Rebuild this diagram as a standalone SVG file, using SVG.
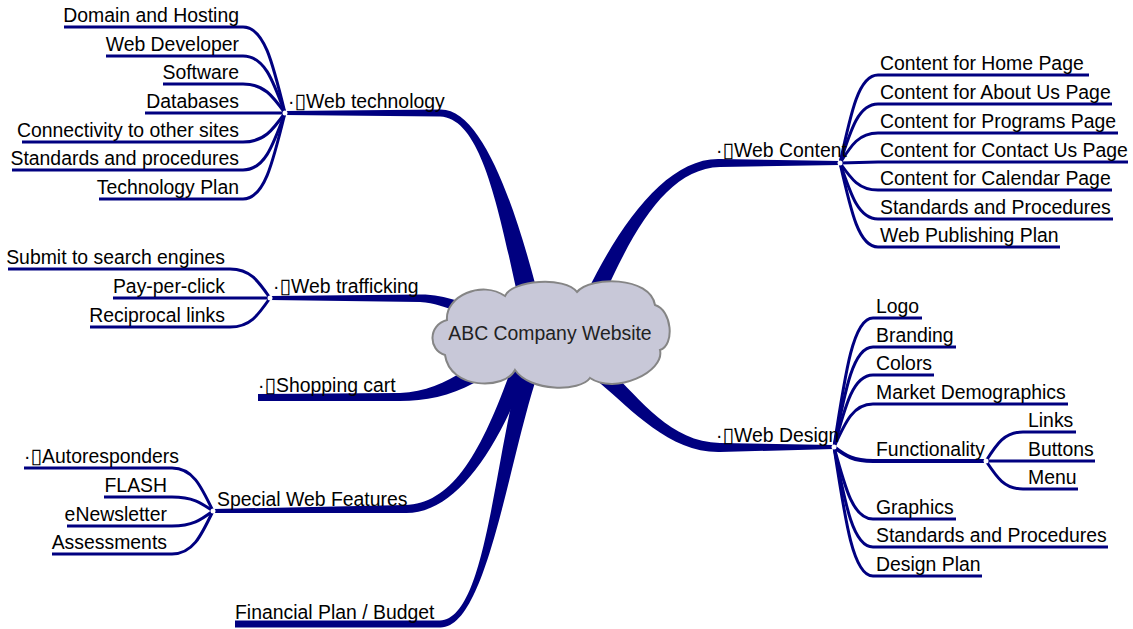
<svg xmlns="http://www.w3.org/2000/svg" width="1133" height="629" viewBox="0 0 1133 629">
<style>
.leaf{fill:none;stroke:#000080;stroke-width:3;stroke-linecap:butt}
.sub{fill:none;stroke:#000080;stroke-width:4}
.br{fill:#000080;stroke:none}
.hub{fill:#ffffff;stroke:none}
text{font-family:"Liberation Sans",Arial,"DejaVu Sans",sans-serif;font-size:19.4px;fill:#000}
.bx{font-family:"DejaVu Sans",sans-serif;font-size:21px;fill:#000}
.e{text-anchor:end}
.c{text-anchor:middle;fill:#222}
.cloud{fill:#c8c8d8;stroke:#858585;stroke-width:2}
</style>
<rect width="1133" height="629" fill="#ffffff"/>
<g id="connectors">
<path class="br" d="M285,111 L440,109.5 C480,108 512.8,198.1 536.7,289.7 L540,305 L521,309 L517.3,294.3 C497.2,201.9 480,118 440,116.5 L285,115 Z"/>
<path class="br" d="M840,161 L720,159 C670,157.5 623.7,217 587.3,291.4 L580,305 L597,310 L602.7,298.6 C636.3,223 670,168.5 720,167 L840,165 Z"/>
<path class="br" d="M270,296 L420,294.5 C435,294.5 445,297 455,300 L455,311 C445,307 435,303 420,302 L270,300 Z"/>
<path class="br" d="M258,394 L400,393 C425,392 445,383 465,370 L474,383 C450,396 425,401 400,401 L258,401 Z"/>
<path class="br" d="M213,509 L405,505 C450,504 478.9,457.7 509,375.3 L512,362 L528,366 L523,380.7 C491.1,462.3 450,514 405,513 L213,513 Z"/>
<path class="br" d="M235,620.5 L440,620.5 C485,619 493.3,468 518.4,375.5 L521,362 L538,366 L535.6,380.5 C506.7,472 485,629 440,627.5 L235,627.5 Z"/>
<path class="br" d="M834,445 L720,443 C670,442 641.6,399.7 609.3,370 L600.3,362.1 L589.7,374.1 L598.7,382 C632.4,410.3 670,453 720,452 L834,449 Z"/>
<path class="leaf" d="M64,27 H243 C264,27 272.4,61.4 285,113"/>
<path class="leaf" d="M106,56 H243 C264,56 272.4,78.8 285,113"/>
<path class="leaf" d="M163,84 H243 C264,84 272.4,95.6 285,113"/>
<path class="leaf" d="M145,113 H285"/>
<path class="leaf" d="M22,142 H243 C264,142 272.4,130.4 285,113"/>
<path class="leaf" d="M12,170 H243 C264,170 272.4,147.2 285,113"/>
<path class="leaf" d="M99,199 H243 C264,199 272.4,164.6 285,113"/>
<path class="leaf" d="M840,163 C851.4,110.2 859,75 878,75 H1089"/>
<path class="leaf" d="M840,163 C851.4,127.6 859,104 878,104 H1112"/>
<path class="leaf" d="M840,163 C851.4,145 859,133 878,133 H1118"/>
<path class="leaf" d="M840,163 L878,162 H1128"/>
<path class="leaf" d="M840,163 C851.4,179.2 859,190 878,190 H1112"/>
<path class="leaf" d="M840,163 C851.4,196.6 859,219 878,219 H1113"/>
<path class="leaf" d="M840,163 C851.4,213.4 859,247 878,247 H1060"/>
<path class="leaf" d="M8,269 H230 C250,269 258,280.6 270,298"/>
<path class="leaf" d="M113,298 H270"/>
<path class="leaf" d="M90,327 H230 C250,327 258,315.4 270,298"/>
<path class="leaf" d="M24,468 H172 C192.5,468 200.7,485.2 213,511"/>
<path class="leaf" d="M104,497 H172 C192.5,497 200.7,502.6 213,511"/>
<path class="leaf" d="M67,526 H172 C192.5,526 200.7,520 213,511"/>
<path class="leaf" d="M52,554 H172 C192.5,554 200.7,536.8 213,511"/>
<path class="leaf" d="M834,447 C845.7,369.6 853.5,318 873,318 H922"/>
<path class="leaf" d="M834,447 C845.7,387 853.5,347 873,347 H956"/>
<path class="leaf" d="M834,447 C845.7,403.8 853.5,375 873,375 H934"/>
<path class="leaf" d="M834,447 C845.7,421.2 853.5,404 873,404 H1068"/>
<path class="sub" d="M834,447 C845.7,456 853.5,461 873,461 H986"/>
<path class="leaf" d="M834,447 C845.7,490.2 853.5,519 873,519 H956"/>
<path class="leaf" d="M834,447 C845.7,507 853.5,547 873,547 H1108"/>
<path class="leaf" d="M834,447 C845.7,524.4 853.5,576 873,576 H982"/>
<path class="leaf" d="M986,461 C997.1,443.6 1004.5,432 1023,432 H1076"/>
<path class="leaf" d="M986,461 H1095"/>
<path class="leaf" d="M986,461 C997.1,477.8 1004.5,489 1023,489 H1078"/>
<circle class="hub" cx="285" cy="113" r="2.5"/>
<circle class="hub" cx="840" cy="163" r="2.5"/>
<circle class="hub" cx="270" cy="298" r="2.5"/>
<circle class="hub" cx="213" cy="511" r="2.5"/>
<circle class="hub" cx="834" cy="447" r="2.5"/>
<circle class="hub" cx="986" cy="461" r="2.5"/>
</g>
<g id="center">
<path class="cloud" d="M447,320 C445,296 482,280 505,296 C512,280 565,276 577,292 C590,276 650,276 655,305 C672,310 675,345 660,350 C665,372 615,395 590,378 C580,392 530,392 515,370 C505,390 450,390 445,355 C428,350 428,325 447,320 Z"/>
<text class="c" x="550" y="340">ABC Company Website</text>
</g>
<g id="web-technology">
<text x="288" y="108">·<tspan class="bx">▯</tspan>Web technology</text>
<text class="e" x="239" y="22">Domain and Hosting</text>
<text class="e" x="239" y="51">Web Developer</text>
<text class="e" x="239" y="79">Software</text>
<text class="e" x="239" y="108">Databases</text>
<text class="e" x="239" y="137">Connectivity to other sites</text>
<text class="e" x="239" y="165">Standards and procedures</text>
<text class="e" x="239" y="194">Technology Plan</text>
</g>
<g id="web-content">
<text x="716" y="157">·<tspan class="bx">▯</tspan>Web Content</text>
<text x="880" y="70">Content for Home Page</text>
<text x="880" y="99">Content for About Us Page</text>
<text x="880" y="128">Content for Programs Page</text>
<text x="880" y="157">Content for Contact Us Page</text>
<text x="880" y="185">Content for Calendar Page</text>
<text x="880" y="214">Standards and Procedures</text>
<text x="880" y="242">Web Publishing Plan</text>
</g>
<g id="web-trafficking">
<text x="273" y="293">·<tspan class="bx">▯</tspan>Web trafficking</text>
<text class="e" x="225" y="264">Submit to search engines</text>
<text class="e" x="225" y="293">Pay-per-click</text>
<text class="e" x="225" y="322">Reciprocal links</text>
</g>
<g id="shopping-cart">
<text x="258" y="392">·<tspan class="bx">▯</tspan>Shopping cart</text>
</g>
<g id="special-web-features">
<text x="217" y="506">Special Web Features</text>
<text class="e" x="179" y="463">·<tspan class="bx">▯</tspan>Autoresponders</text>
<text class="e" x="167" y="492">FLASH</text>
<text class="e" x="167" y="521">eNewsletter</text>
<text class="e" x="167" y="549">Assessments</text>
</g>
<g id="financial-plan">
<text x="235" y="619">Financial Plan / Budget</text>
</g>
<g id="web-design">
<text x="716" y="442">·<tspan class="bx">▯</tspan>Web Design</text>
<text x="876" y="313">Logo</text>
<text x="876" y="342">Branding</text>
<text x="876" y="370">Colors</text>
<text x="876" y="399">Market Demographics</text>
<text x="876" y="456">Functionality</text>
<text x="876" y="514">Graphics</text>
<text x="876" y="542">Standards and Procedures</text>
<text x="876" y="571">Design Plan</text>
</g>
<g id="functionality">
<text x="1028" y="427">Links</text>
<text x="1028" y="456">Buttons</text>
<text x="1028" y="484">Menu</text>
</g>
</svg>
